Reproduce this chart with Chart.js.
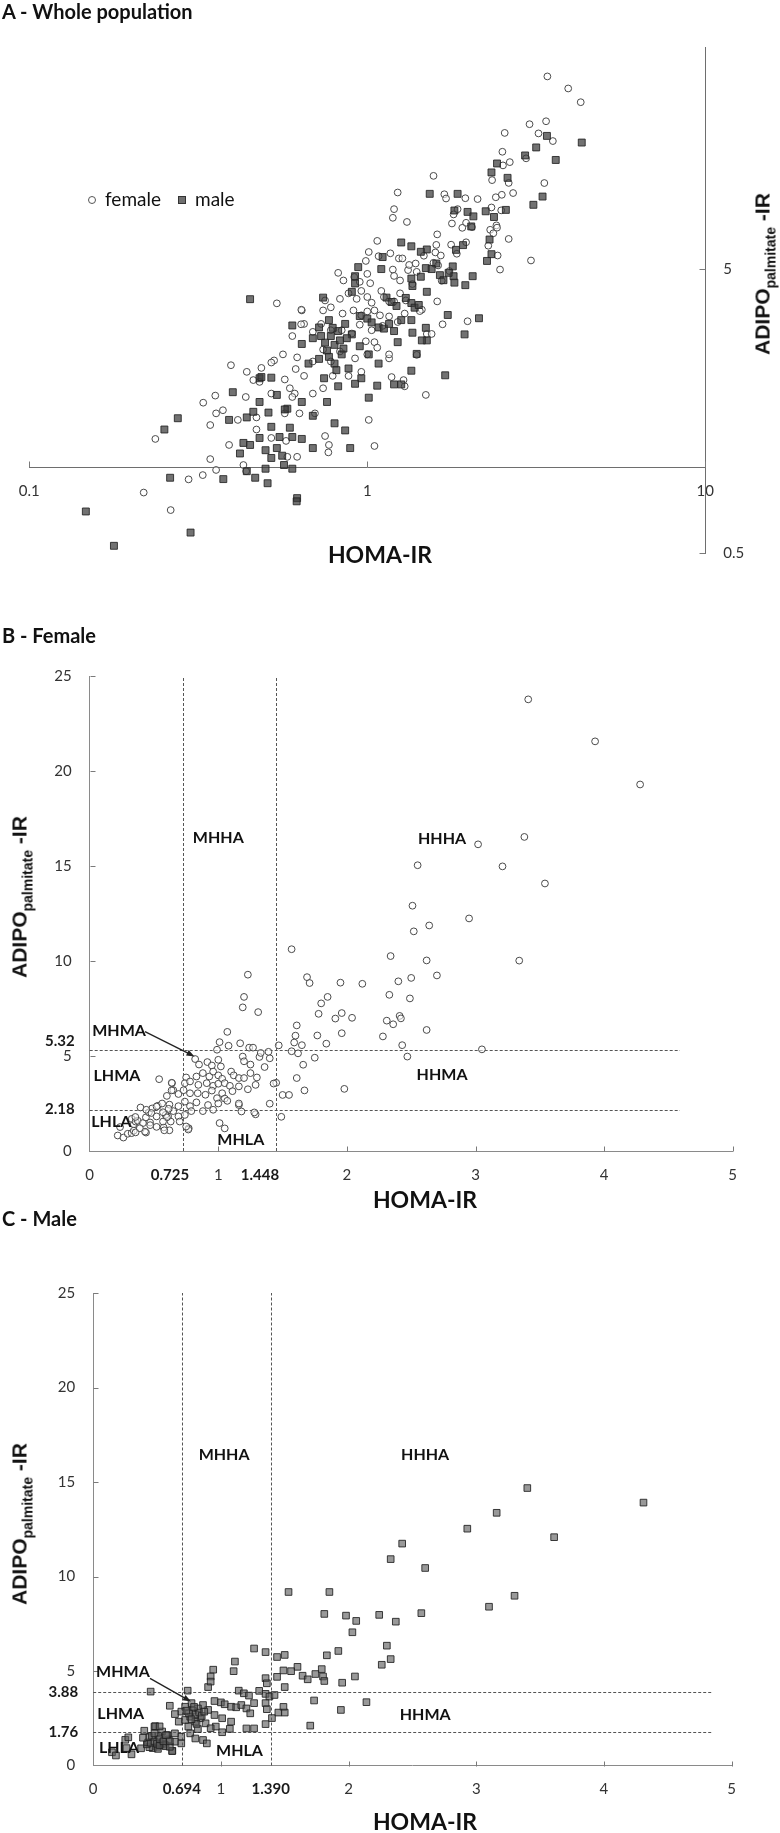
<!DOCTYPE html>
<html><head><meta charset="utf-8">
<script src="https://cdn.jsdelivr.net/npm/chart.js@4.4.1/dist/chart.umd.min.js"></script>
<style>
body{margin:0;background:#fff;}
#wrap{position:relative;width:780px;height:1833px;overflow:hidden;background:#fff;font-family:Lato,"Open Sans",sans-serif;color:#111;}
canvas{position:absolute;left:0;}
.ptitle{position:absolute;left:2px;font-weight:bold;font-size:20px;line-height:22px;white-space:nowrap;z-index:2;}
.xt{position:absolute;width:200px;text-align:center;font-weight:bold;font-size:23px;line-height:23px;white-space:nowrap;z-index:2;}
.yt{position:absolute;transform:translate(-50%,-50%) rotate(-90deg);font-family:"Liberation Sans",Arial,sans-serif;font-weight:bold;font-size:21px;line-height:1;white-space:nowrap;z-index:2;}
.yt sub{font-size:14px;line-height:0;vertical-align:-6px;}
.leg{position:absolute;font-size:19px;line-height:22px;white-space:nowrap;z-index:2;}
.mkc{position:absolute;width:6px;height:6px;border:1px solid #555;border-radius:50%;background:#fff;z-index:2;}
.mks{position:absolute;width:6px;height:6px;border:1px solid #333;background:#707070;z-index:2;}
</style></head>
<body>
<div id="wrap">
  <div class="ptitle" style="top:0px;">A - Whole population</div>
  <div class="ptitle" style="top:624px;">B - Female</div>
  <div class="ptitle" style="top:1207px;">C - Male</div>

  <canvas id="cA" width="780" height="580" style="top:0px;"></canvas>
  <canvas id="cB" width="780" height="610" style="top:620px;"></canvas>
  <canvas id="cC" width="780" height="593" style="top:1240px;"></canvas>

  <div class="mkc" style="left:88px;top:196px;"></div>
  <div class="leg" style="left:105px;top:188px;">female</div>
  <div class="mks" style="left:178px;top:196px;"></div>
  <div class="leg" style="left:195px;top:188px;">male</div>

  <div class="xt" style="left:280px;top:543px;">HOMA-IR</div>
  <div class="xt" style="left:325px;top:1188px;">HOMA-IR</div>
  <div class="xt" style="left:325px;top:1810px;">HOMA-IR</div>

  <div class="yt" style="left:762px;top:274px;">ADIPO<sub>palmitate</sub> -IR</div>
  <div class="yt" style="left:19px;top:897px;">ADIPO<sub>palmitate</sub> -IR</div>
  <div class="yt" style="left:19px;top:1524px;">ADIPO<sub>palmitate</sub> -IR</div>
</div>
<script>
// ---------------- DATA ----------------
const femaleHoma = [
  3.41,3.93,4.28,3.38,3.02,2.55,3.21,3.54,2.51,2.95,2.64,2.52,1.57,2.34,2.62,3.34,
  1.23,1.69,2.70,2.50,1.71,1.95,2.12,2.40,2.33,1.85,1.20,2.49,1.80,1.19,1.31,1.78,
  1.96,1.91,2.04,2.41,2.42,2.31,2.36,1.61,1.07,1.96,2.62,1.77,1.60,2.28,1.01,1.17,
  1.59,1.08,1.65,1.84,1.47,2.43,3.05,1.24,1.27,0.99,1.57,1.62,1.75,2.47,1.40,1.19,
  1.39,1.66,1.61,1.98,1.67,1.50,1.55,1.45,1.43,1.40,1.49,1.29,1.18,1.16,1.01,1.05,0.82,0.85,0.54,
  0.915,0.95,1.00,1.02,1.20,1.25,1.32,1.33,1.36,
  0.75,0.83,0.88,0.93,0.96,1.00,1.03,1.10,1.12,1.16,1.20,1.25,1.30,
  0.64,0.74,0.78,0.845,0.91,0.96,1.00,1.05,1.09,1.16,1.23,1.29,
  0.60,0.65,0.69,0.73,0.78,0.84,0.90,0.95,0.99,1.03,1.05,1.11,
  0.62,0.69,0.74,0.78,0.83,0.88,0.92,0.96,1.00,1.07,1.16,
  0.61,0.65,0.69,0.74,0.79,0.63,0.70,1.28,0.62,0.77,
  0.218,0.262,0.296,0.326,0.236,0.343,0.343,0.357,0.327,0.357,0.374,0.395,0.414,0.355,0.438,
  0.437,0.46,0.47,0.486,0.53,0.563,0.575,0.59,0.60,0.614,0.638,0.637,0.767,0.75,
  0.52,0.44,0.48,0.52,0.57,0.57,0.52,0.58,0.47,0.43,0.39
];
const femaleAdipo = [
  23.77,21.56,19.29,16.53,16.14,15.04,14.98,14.08,12.91,12.24,11.87,11.56,10.62,10.26,10.03,10.02,
  9.28,9.15,9.24,9.11,8.84,8.86,8.80,8.93,8.22,8.11,8.11,8.03,7.77,7.56,7.31,7.22,
  7.26,6.97,7.01,7.11,6.98,6.86,6.67,6.61,6.27,6.20,6.37,6.08,6.07,6.03,5.73,5.67,
  5.71,5.54,5.57,5.65,5.56,5.57,5.35,5.44,5.44,5.33,5.25,5.14,4.91,4.97,4.88,4.97,
  5.22,4.54,3.84,3.27,3.19,2.95,2.95,3.59,3.55,2.49,1.80,1.93,2.08,2.42,1.47,1.19,4.84,4.55,3.78,
  4.68,4.50,4.80,4.45,4.72,4.55,4.95,5.16,4.42,
  3.87,3.92,4.10,3.92,4.18,3.98,3.80,4.18,3.98,3.84,3.84,4.10,3.87,
  3.57,3.57,3.66,3.48,3.57,3.43,3.54,3.57,3.43,3.40,3.25,3.48,
  2.90,3.20,3.00,3.20,3.04,3.04,2.96,3.18,2.78,3.04,2.76,3.15,
  2.44,2.36,2.60,2.36,2.56,2.10,2.42,2.17,2.50,2.64,2.50,
  1.82,2.10,1.82,1.90,2.10,1.55,1.55,2.03,1.09,1.20,
  0.816,0.708,0.908,0.94,1.26,1.41,1.07,0.98,1.69,1.55,1.59,2.29,1.47,1.79,0.97,
  1.77,2.03,1.50,2.24,2.38,2.50,1.24,1.90,1.77,2.22,3.59,3.19,1.13,1.29,
  2.34,2.17,2.00,1.82,2.04,1.55,1.27,1.09,1.36,1.02,1.20
];
const maleHoma = [
  3.40,4.31,3.16,2.93,3.61,2.42,2.33,2.60,1.53,1.85,3.30,3.10,1.81,1.98,2.24,2.57,
  2.06,2.37,2.03,2.30,1.26,1.35,1.50,1.44,1.83,1.92,2.33,2.26,1.11,1.10,0.94,0.92,
  1.60,1.49,1.55,1.79,1.80,1.81,1.64,1.68,1.74,2.05,1.95,1.35,1.44,0.90,1.50,1.73,
  2.14,1.94,1.70,0.45,0.74,1.20,1.26,1.35,1.40,
  0.92,1.36,1.14,1.18,1.22,1.30,1.35,1.38,1.42,1.00,0.95,1.03,
  1.08,1.12,1.16,1.20,1.23,1.26,1.35,1.36,1.49,1.50,1.45,
  1.07,1.01,0.96,1.08,1.01,0.95,0.90,0.86,0.82,0.77,0.72,0.69,
  0.64,0.60,0.67,0.72,0.76,0.80,0.84,0.88,0.92,0.82,0.745,0.76,
  0.80,0.86,0.89,0.69,0.64,0.59,0.54,0.50,0.48,0.54,0.58,0.62,
  0.56,0.51,0.64,0.69,0.78,0.80,0.83,0.75,0.85,0.79,0.73,0.87,0.81,0.77,
  0.147,0.178,0.30,0.261,0.251,0.275,0.375,0.466,0.44,0.42,0.43,0.45,0.39,0.44,0.46,
  0.48,0.486,0.40,0.48,0.507,0.618,0.567,0.60,0.50,0.52,0.52,0.52,0.55,0.57,0.60
];
const maleAdipo = [
  14.68,13.91,13.37,12.53,12.08,11.74,10.92,10.45,9.18,9.18,8.98,8.40,8.02,7.93,7.97,8.06,
  7.65,7.61,7.05,6.34,6.19,6.00,5.85,5.74,5.83,6.06,5.63,5.33,5.50,4.99,5.07,4.71,
  5.22,5.03,4.99,5.10,4.71,4.47,4.75,4.56,4.84,4.71,4.38,4.62,4.69,4.15,4.15,3.44,
  3.35,2.94,2.11,3.91,3.96,1.96,1.96,2.19,2.51,
  4.44,4.35,3.96,3.82,3.70,3.95,3.79,3.65,3.73,3.34,3.41,3.24,
  3.11,3.08,3.20,3.02,2.76,3.30,3.30,2.98,3.10,2.80,2.80,
  1.94,1.76,2.06,2.32,2.50,2.67,2.94,3.20,3.02,3.30,3.11,2.85,
  2.72,3.16,2.32,2.41,2.58,2.32,2.50,2.23,1.97,1.93,2.06,1.70,
  1.43,1.35,1.17,1.52,1.26,1.38,1.17,0.99,2.06,1.80,1.61,0.78,
  1.10,1.56,1.70,1.17,2.90,2.70,2.80,2.75,2.62,3.10,2.90,2.85,2.20,2.45,
  0.70,0.53,0.59,0.92,1.36,1.49,0.91,0.92,0.97,1.12,1.22,1.20,1.47,1.50,1.57,
  1.70,2.08,1.84,1.27,0.88,0.76,1.02,0.99,1.15,1.08,2.07,1.39,1.28,1.60,1.28
];

const xTicksA = [0.1, 1, 10];
const yTicksA = [0.5, 5];
const xTicksBC = [0, 1, 2, 3, 4, 5];
const yTicksBC = [0, 5, 10, 15, 20, 25];

const femaleHomaCuts = [0.725, 1.448];
const femaleHomaCutLabels = ['0.725', '1.448'];
const femaleAdipoCuts = [5.32, 2.18];
const femaleAdipoCutLabels = ['5.32', '2.18'];
const maleHomaCuts = [0.694, 1.390];
const maleHomaCutLabels = ['0.694', '1.390'];
const maleAdipoCuts = [3.88, 1.76];
const maleAdipoCutLabels = ['3.88', '1.76'];

const regionNames = ['MHHA', 'HHHA', 'MHMA', 'LHMA', 'HHMA', 'LHLA', 'MHLA'];

// ---------------- HELPERS ----------------
Chart.defaults.font.family = 'Lato';
const pts = (xs, ys) => xs.map((x, i) => ({x: x, y: ys[i]}));
const setTicks = arr => (s => { s.ticks = arr.map(v => ({value: v})); });

const marksPlugin = {
  id: 'marks',
  beforeDatasetsDraw(chart, args, o) {
    if (!o.cuts) return;
    const {ctx} = chart; const x = chart.scales.x, y = chart.scales.y;
    ctx.save();
    ctx.strokeStyle = '#555'; ctx.lineWidth = 1; ctx.setLineDash([3, 2]);
    o.cuts.x.forEach(v => {
      const px = Math.round(x.getPixelForValue(v)) + 0.5;
      ctx.beginPath(); ctx.moveTo(px, y.getPixelForValue(y.min)); ctx.lineTo(px, y.getPixelForValue(y.max)); ctx.stroke();
    });
    o.cuts.y.forEach(v => {
      const py = Math.round(y.getPixelForValue(v)) + 0.5;
      ctx.beginPath(); ctx.moveTo(x.getPixelForValue(x.min), py); ctx.lineTo(x.getPixelForValue(o.cuts.hEnd), py); ctx.stroke();
    });
    ctx.restore();
  },
  afterDraw(chart, args, o) {
    const {ctx, chartArea} = chart; const x = chart.scales.x, y = chart.scales.y;
    ctx.save();
    ctx.setLineDash([]);
    if (o.tickMarks) {
      const tm = o.tickMarks;
      ctx.strokeStyle = '#7a7a7a'; ctx.lineWidth = 1;
      const axY = Math.round(y.getPixelForValue(tm.xAxisAt)) + 0.5;
      tm.x.forEach(v => {
        const px = Math.round(x.getPixelForValue(v)) + 0.5;
        ctx.beginPath(); ctx.moveTo(px, axY); ctx.lineTo(px, axY - tm.len); ctx.stroke();
      });
      const axX = tm.yRight ? Math.round(chartArea.right) + 0.5 : Math.round(chartArea.left) + 0.5;
      const dir = tm.yRight ? -1 : 1;
      tm.y.forEach(v => {
        const py = Math.round(y.getPixelForValue(v)) + 0.5;
        ctx.beginPath(); ctx.moveTo(axX, py); ctx.lineTo(axX + dir * tm.len, py); ctx.stroke();
      });
    }
    if (o.cutLabels) {
      ctx.fillStyle = '#1a1a1a';
      ctx.font = 'bold 15px Lato';
      ctx.textBaseline = 'middle';
      const axY = y.getPixelForValue(0);
      ctx.textAlign = 'center';
      o.cutLabels.x.forEach(l => ctx.fillText(l.text, x.getPixelForValue(l.v) + l.dx, axY + 24));
      ctx.textAlign = 'right';
      o.cutLabels.y.forEach(l => ctx.fillText(l.text, chartArea.left - 15, y.getPixelForValue(l.v) + l.dy));
    }
    if (o.regions) {
      ctx.fillStyle = '#111';
      ctx.font = 'bold 16px Lato';
      ctx.textAlign = 'center'; ctx.textBaseline = 'middle';
      o.regions.forEach(r => ctx.fillText(r.text, x.getPixelForValue(r.x), y.getPixelForValue(r.y)));
    }
    if (o.arrow) {
      const x0 = x.getPixelForValue(o.arrow.from[0]), y0 = y.getPixelForValue(o.arrow.from[1]);
      const x1 = x.getPixelForValue(o.arrow.to[0]), y1 = y.getPixelForValue(o.arrow.to[1]);
      const a = Math.atan2(y1 - y0, x1 - x0);
      ctx.strokeStyle = '#222'; ctx.fillStyle = '#222'; ctx.lineWidth = 1.3;
      ctx.beginPath(); ctx.moveTo(x0, y0); ctx.lineTo(x1 - 4 * Math.cos(a), y1 - 4 * Math.sin(a)); ctx.stroke();
      ctx.beginPath();
      ctx.moveTo(x1, y1);
      ctx.lineTo(x1 - 8 * Math.cos(a) + 3 * Math.sin(a), y1 - 8 * Math.sin(a) - 3 * Math.cos(a));
      ctx.lineTo(x1 - 8 * Math.cos(a) - 3 * Math.sin(a), y1 - 8 * Math.sin(a) + 3 * Math.cos(a));
      ctx.closePath(); ctx.fill();
    }
    ctx.restore();
  }
};

const tickFont = {family: 'Lato', size: 15};
const femaleStyle = {pointStyle: 'circle', pointRadius: 3.4, pointBackgroundColor: 'rgba(255,255,255,0.55)', pointBorderColor: '#4a4a4a', pointBorderWidth: 1};

// ---------------- PANEL A ----------------
new Chart(document.getElementById('cA'), {
  type: 'scatter',
  data: {datasets: [
    Object.assign({label: 'female', order: 2, data: pts(femaleHoma, femaleAdipo)}, femaleStyle),
    {label: 'male', order: 1, data: pts(maleHoma, maleAdipo), pointStyle: 'rect', pointRadius: 4.9,
     pointBackgroundColor: 'rgba(60,60,60,0.72)', pointBorderColor: 'rgba(35,35,35,0.85)', pointBorderWidth: 1}
  ]},
  options: {
    responsive: false, animation: false, events: [],
    layout: {padding: {left: 29.3, top: 47.7, right: 34.7, bottom: 24}},
    plugins: {legend: {display: false}, tooltip: {enabled: false},
      marks: {tickMarks: {x: xTicksA, y: yTicksA, xAxisAt: 1, yRight: true, len: 6}}},
    scales: {
      x: {type: 'logarithmic', min: 0.1, max: 10, position: {y: 1},
          afterBuildTicks: setTicks(xTicksA), afterFit: s => { s.height = 0; },
          grid: {display: false, drawTicks: false}, border: {color: '#6e6e6e'},
          ticks: {padding: 15, color: '#333', font: tickFont, autoSkip: false, maxRotation: 0, callback: v => String(v)}},
      y: {type: 'logarithmic', min: 0.5, max: 30, position: 'right',
          afterBuildTicks: setTicks(yTicksA), afterFit: s => { s.width = 40; },
          grid: {display: false, drawTicks: false}, border: {color: '#6e6e6e'},
          ticks: {padding: 18, color: '#333', font: tickFont, autoSkip: false, callback: v => String(v)}}
    }
  },
  plugins: [marksPlugin]
});

// ---------------- PANELS B & C ----------------
function linScales() {
  return {
    x: {type: 'linear', min: 0, max: 5, afterBuildTicks: setTicks(xTicksBC), afterFit: s => { s.height = 40; },
        grid: {display: false, drawTicks: false}, border: {color: '#8a8a8a'},
        ticks: {padding: 15, color: '#333', font: tickFont, autoSkip: false, maxRotation: 0}},
    y: {type: 'linear', min: 0, max: 25, afterBuildTicks: setTicks(yTicksBC), afterFit: s => { s.width = 50; },
        grid: {display: false, drawTicks: false}, border: {color: '#8a8a8a'},
        ticks: {padding: 18, color: '#333', font: tickFont, autoSkip: false}}
  };
}

new Chart(document.getElementById('cB'), {
  type: 'scatter',
  data: {datasets: [Object.assign({label: 'female', data: pts(femaleHoma, femaleAdipo)}, femaleStyle)]},
  options: {
    responsive: false, animation: false, events: [],
    layout: {padding: {left: 39.7, top: 56, right: 47.3, bottom: 39}},
    plugins: {legend: {display: false}, tooltip: {enabled: false},
      marks: {
        cuts: {x: femaleHomaCuts, y: femaleAdipoCuts, hEnd: 4.59},
        tickMarks: {x: [1, 2, 3, 4, 5], y: [5, 10, 15, 20, 25], xAxisAt: 0, yRight: false, len: 5},
        cutLabels: {
          x: femaleHomaCuts.map((v, i) => ({v: v, text: femaleHomaCutLabels[i], dx: [-13, -16][i]})),
          y: femaleAdipoCuts.map((v, i) => ({v: v, text: femaleAdipoCutLabels[i], dy: [-9, 0][i]}))
        },
        regions: [
          {text: regionNames[0], x: 1.0, y: 16.5}, {text: regionNames[1], x: 2.74, y: 16.45},
          {text: regionNames[2], x: 0.228, y: 6.32}, {text: regionNames[3], x: 0.212, y: 3.95},
          {text: regionNames[4], x: 2.74, y: 4.02}, {text: regionNames[5], x: 0.168, y: 1.54},
          {text: regionNames[6], x: 1.175, y: 0.58}
        ],
        arrow: {from: [0.43, 6.28], to: [0.815, 4.98]}
      }},
    scales: linScales()
  },
  plugins: [marksPlugin]
});

new Chart(document.getElementById('cC'), {
  type: 'scatter',
  data: {datasets: [{label: 'male', data: pts(maleHoma, maleAdipo), pointStyle: 'rect', pointRadius: 4.7,
     pointBackgroundColor: 'rgba(90,90,90,0.62)', pointBorderColor: 'rgba(30,30,30,0.85)', pointBorderWidth: 1}]},
  options: {
    responsive: false, animation: false, events: [],
    layout: {padding: {left: 43.2, top: 53, right: 48.4, bottom: 27.5}},
    plugins: {legend: {display: false}, tooltip: {enabled: false},
      marks: {
        cuts: {x: maleHomaCuts, y: maleAdipoCuts, hEnd: 4.85},
        tickMarks: {x: [1, 2, 3, 4, 5], y: [5, 10, 15, 20, 25], xAxisAt: 0, yRight: false, len: 5},
        cutLabels: {
          x: maleHomaCuts.map((v, i) => ({v: v, text: maleHomaCutLabels[i], dx: 0})),
          y: maleAdipoCuts.map((v, i) => ({v: v, text: maleAdipoCutLabels[i], dy: 0}))
        },
        regions: [
          {text: regionNames[0], x: 1.025, y: 16.43}, {text: regionNames[1], x: 2.6, y: 16.43},
          {text: regionNames[2], x: 0.233, y: 4.95}, {text: regionNames[3], x: 0.216, y: 2.72},
          {text: regionNames[4], x: 2.6, y: 2.67}, {text: regionNames[5], x: 0.202, y: 0.93},
          {text: regionNames[6], x: 1.146, y: 0.77}
        ],
        arrow: {from: [0.445, 4.61], to: [0.766, 3.38]}
      }},
    scales: linScales()
  },
  plugins: [marksPlugin]
});
</script>
</body></html>
